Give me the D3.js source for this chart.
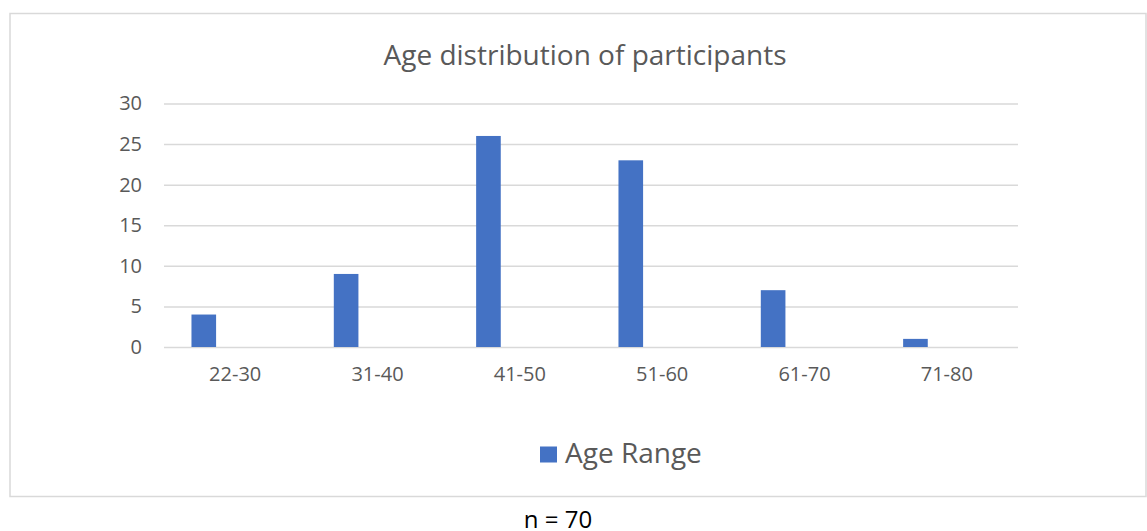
<!DOCTYPE html>
<html>
<head>
<meta charset="utf-8">
<script src="https://cdn.jsdelivr.net/npm/d3@7"></script>
<style>
    body { margin: 0; background: #fff; }
    text { font-family: "Open Sans", sans-serif; }
</style>
</head>
<body>
<div id="chart"></div>
<script>
// chart data
var categories = ["22-30", "31-40", "41-50", "51-60", "61-70", "71-80"];
var counts = [4, 9, 26, 23, 7, 1];
var yTicks = [0, 5, 10, 15, 20, 25, 30];
var seriesName = "Age Range";
var chartTitle = "Age distribution of participants";
var note = "n = 70";

function renderBarChart(position) {
    var width = 1147, height = 531;
    var plot = {left: 164, right: 1018, top: 103.5, bottom: 347};

    var svg = d3.select("#" + position)
        .append("svg")
        .attr("width", width)
        .attr("height", height);

    // chart area border (runs past the right edge like the original)
    svg.append("rect")
        .attr("x", 10)
        .attr("y", 13.5)
        .attr("width", 1136)
        .attr("height", 483)
        .attr("fill", "#fff")
        .attr("stroke", "#d9d9d9")
        .attr("stroke-width", 1.5);

    var x = d3.scaleBand()
        .domain(categories)
        .range([plot.left, plot.right]);

    var y = d3.scaleLinear()
        .domain([0, 30])
        .range([plot.bottom, plot.top]);

    // gridlines + y labels
    svg.append("g")
        .attr("transform", "translate(" + plot.left + ",0)")
        .call(d3.axisLeft(y).tickValues(yTicks).tickSize(-(plot.right - plot.left)).tickPadding(22))
        .call(function (g) { g.select(".domain").remove(); })
        .call(function (g) {
            g.selectAll(".tick line").attr("stroke", "#d9d9d9").attr("stroke-width", 1.5);
            g.selectAll(".tick text")
                .attr("fill", "#595959")
                .style("font-size", "20px")
                .style("font-family", "'Open Sans', sans-serif");
        });

    // x labels
    svg.append("g")
        .attr("transform", "translate(0," + plot.bottom + ")")
        .call(d3.axisBottom(x).tickSize(0).tickPadding(20))
        .call(function (g) { g.select(".domain").remove(); })
        .call(function (g) {
            g.selectAll(".tick text")
                .attr("fill", "#595959")
                .style("font-size", "20px")
                .style("font-family", "'Open Sans', sans-serif");
        });

    // bars sit on the left of each category slot (excel cluster layout)
    var bw = x.bandwidth();
    svg.selectAll(".bar")
        .data(counts)
        .enter().append("rect")
        .attr("class", "bar")
        .attr("x", function (d, i) { return x(categories[i]) + bw * 0.193; })
        .attr("width", bw * 0.173)
        .attr("y", function (d) { return y(d); })
        .attr("height", function (d) { return y(0) - y(d); })
        .attr("fill", "#4472c4");

    // title
    svg.append("text")
        .attr("x", 585)
        .attr("y", 65)
        .attr("text-anchor", "middle")
        .attr("fill", "#595959")
        .style("font-size", "28px")
        .text(chartTitle);

    // legend
    svg.append("rect")
        .attr("x", 540)
        .attr("y", 446.5)
        .attr("width", 17)
        .attr("height", 16)
        .attr("fill", "#4472c4");

    svg.append("text")
        .attr("x", 565)
        .attr("y", 463)
        .attr("fill", "#595959")
        .style("font-size", "28px")
        .text(seriesName);

    // sample size note
    svg.append("text")
        .attr("x", 558)
        .attr("y", 528)
        .attr("text-anchor", "middle")
        .attr("fill", "#000")
        .style("font-size", "24px")
        .text(note);
}

renderBarChart("chart");
</script>
</body>
</html>
